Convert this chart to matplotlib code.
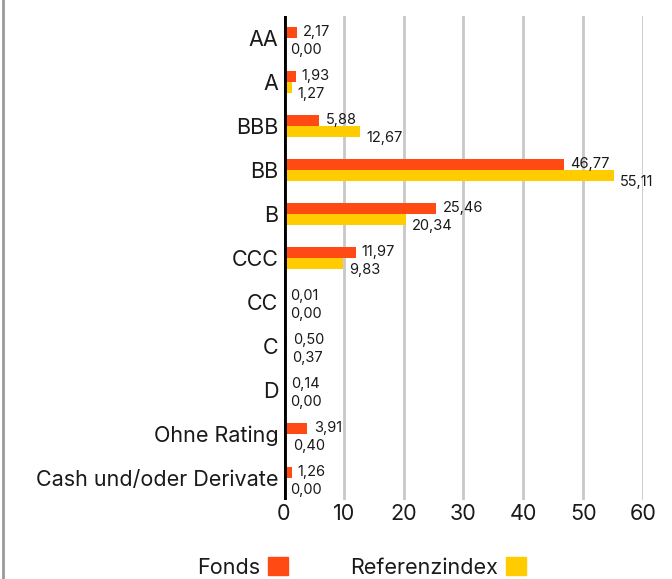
import numpy as np
import matplotlib
matplotlib.use('Agg')
import matplotlib.pyplot as plt
from matplotlib.lines import Line2D
from matplotlib.patches import Patch

plt.rcParams['font.family'] = ['Inter', 'DejaVu Sans']

# ratings and weights (%)
categories = ['AA', 'A', 'BBB', 'BB', 'B', 'CCC', 'CC', 'C', 'D', 'Ohne Rating', 'Cash und/oder Derivate']
fonds = [2.17, 1.93, 5.88, 46.77, 25.46, 11.97, 0.01, 0.50, 0.14, 3.91, 1.26]
referenz = [0.00, 1.27, 12.67, 55.11, 20.34, 9.83, 0.00, 0.37, 0.00, 0.40, 0.00]
series_names = ['Fonds', 'Referenzindex']
xticks = [0, 10, 20, 30, 40, 50, 60]

col_fonds = '#FF4A14'
col_ref = '#FFCC00'
txt_col = '#1a1a1a'

fig = plt.figure(figsize=(6.72, 5.79), dpi=100)
ax = fig.add_axes([0.4226, 0.1364, 0.5342, 0.836])

y = np.arange(len(categories))
h = 0.25
ax.barh(y - h / 2, fonds, height=h, color=col_fonds, zorder=3)
ax.barh(y + h / 2, referenz, height=h, color=col_ref, zorder=3)

def fmt(v):
    return f"{v:.2f}".replace('.', ',')

for yi, v in zip(y, fonds):
    ax.annotate(fmt(v), (v, yi - h / 2), xytext=(4.5, 0.5), textcoords='offset points',
                va='center', ha='left', fontsize=10.5, color=txt_col)
for yi, v in zip(y, referenz):
    ax.annotate(fmt(v), (v, yi + h / 2), xytext=(4.5, -4.5), textcoords='offset points',
                va='center', ha='left', fontsize=10.5, color=txt_col)

ax.set_xlim(0, 60)
ax.set_ylim(len(categories) - 0.5, -0.5)
ax.set_xticks(xticks)
ax.set_xticklabels([str(t) for t in xticks], fontsize=15.5, color=txt_col)
ax.set_yticks(y)
ax.set_yticklabels(categories, fontsize=15.5, color=txt_col)
ax.tick_params(length=0, pad=4)
ax.tick_params(axis='x', pad=3)

ax.grid(axis='x', color='#c8c8c8', lw=2, zorder=0)
for s in ax.spines.values():
    s.set_visible(False)
ax.axvline(0, color='black', lw=3.5, zorder=4)

handles = [Patch(color=col_fonds), Patch(color=col_ref)]
leg = fig.legend(handles, series_names, loc='lower center', bbox_to_anchor=(0.538, -0.031),
                 ncol=2, frameon=False, markerfirst=False, fontsize=15.5,
                 handlelength=0.93, handleheight=0.93, handletextpad=0.35, columnspacing=2.9)
for t in leg.get_texts():
    t.set_color(txt_col)

# left frame line
fig.add_artist(Line2D([0.005, 0.005], [0, 1], color='#999999', lw=2, transform=fig.transFigure))

fig.savefig('out.png', dpi=100)
